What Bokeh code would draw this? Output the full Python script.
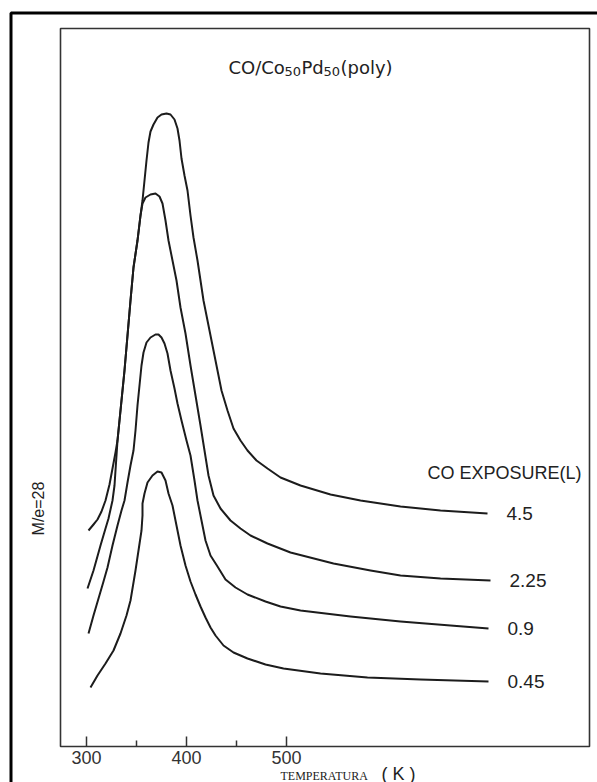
from bokeh.plotting import figure
from bokeh.models import Range1d, FixedTicker, Label, BoxAnnotation
from bokeh.embed import file_html
from bokeh.resources import INLINE
from bokeh.core.properties import value

# ---- data (temperature in K, signal M/e=28 in arbitrary units) ----
temp_45 = [302, 307, 311, 315, 319, 323, 326, 329, 331, 335, 338, 341, 344, 347, 351, 354, 356, 358, 360, 362,
           364, 367, 371, 375, 380, 384, 388, 391, 393, 395, 398, 401, 404, 407, 411, 414, 417, 421, 424, 427,
           431, 435, 441, 447, 454, 461, 470, 481, 494, 514, 544, 574, 614, 654, 701]
sig_45 = [216, 222, 227, 235, 246, 262, 278, 294, 306, 346, 376, 411, 446, 479, 506, 531, 546, 566, 586, 604,
          615, 622, 629, 632, 633, 632, 627, 618, 606, 588, 571, 556, 531, 509, 486, 466, 446, 426, 411, 396,
          376, 356, 336, 318, 306, 296, 286, 278, 269, 261, 252, 246, 240, 236, 233]

temp_225 = [301, 307, 314, 319, 322, 326, 328, 329, 330, 331, 335, 338, 341, 344, 347, 351, 354, 356, 359, 364,
            369, 373, 376, 379, 382, 386, 390, 394, 399, 404, 409, 414, 418, 422, 427, 434, 444, 454, 464, 481,
            504, 547, 584, 614, 654, 704]
sig_225 = [158, 176, 201, 218, 228, 246, 261, 276, 291, 306, 346, 376, 411, 446, 479, 506, 531, 543, 549, 552,
           553, 550, 543, 526, 506, 486, 466, 439, 413, 381, 351, 321, 296, 271, 251, 238, 226, 218, 211, 203,
           194, 183, 176, 171, 168, 166]

temp_09 = [302, 307, 312, 317, 321, 326, 331, 335, 338, 341, 344, 347, 349, 351, 353, 355, 357, 360, 364, 369,
           372, 375, 378, 381, 384, 388, 391, 395, 400, 404, 408, 411, 415, 419, 424, 431, 439, 449, 461, 479,
           494, 514, 564, 614, 664, 702]
sig_09 = [113, 131, 148, 165, 179, 201, 221, 236, 246, 264, 281, 296, 316, 341, 361, 381, 394, 404, 409, 412,
          412, 409, 403, 393, 376, 358, 343, 326, 306, 291, 266, 246, 226, 206, 191, 180, 167, 159, 152, 145,
          140, 136, 130, 125, 121, 118]

temp_045 = [304, 311, 319, 327, 334, 340, 344, 349, 352, 355, 356, 356, 358, 361, 366, 371, 375, 379, 382, 386,
            390, 394, 399, 404, 409, 414, 419, 424, 429, 437, 447, 461, 479, 497, 534, 581, 634, 702]
sig_045 = [59, 71, 83, 96, 113, 131, 146, 176, 196, 216, 231, 243, 253, 264, 271, 275, 274, 266, 253, 241,
           221, 201, 181, 165, 152, 140, 129, 119, 111, 101, 94, 88, 82, 78, 73, 69, 67, 65]

exposure_labels = ["4.5", "2.25", "0.9", "0.45"]
major_ticks = [300, 400, 500]
minor_ticks = [350, 450]

# title pieces: (text, font size px, baseline drop px, x offset px)
title_parts = [("CO/Co", 18, 0, 0), ("50", 13, 4, 56), ("Pd", 18, 0, 73), ("50", 13, 4, 95), ("(poly)", 18, 0, 112)]

series = [(temp_45, sig_45), (temp_225, sig_225), (temp_09, sig_09), (temp_045, sig_045)]

SANS = "Liberation Sans"
INK = "#1c1c1c"

# plotted region (data limits of the drawing box)
T_MIN, T_MAX = 274, 803
S_MIN, S_MAX = 0, 718

p = figure(width=597, height=782, output_backend="svg", toolbar_location=None,
           x_range=Range1d(214, 811), y_range=Range1d(-36, 746), y_axis_location=None,
           min_border=0, min_border_left=0, min_border_right=0, min_border_top=0, min_border_bottom=0)
p.background_fill_color = "white"
p.border_fill_color = "white"
p.grid.visible = False
p.outline_line_color = None

xa = p.xaxis[0]
xa.fixed_location = S_MIN
xa.ticker = FixedTicker(ticks=major_ticks, minor_ticks=minor_ticks)
xa.major_tick_in = 10
xa.major_tick_out = 0
xa.minor_tick_in = 6
xa.minor_tick_out = 0
xa.major_tick_line_color = "#333"
xa.minor_tick_line_color = "#333"
xa.major_tick_line_width = 1.5
xa.minor_tick_line_width = 1.5
xa.axis_line_color = None
xa.major_label_text_font = SANS
xa.major_label_text_font_size = "18px"
xa.major_label_text_color = "#333"
xa.major_label_standoff = 4

# drawing box (frame of the original figure)
p.add_layout(BoxAnnotation(left=T_MIN, right=T_MAX, bottom=S_MIN, top=S_MAX, fill_alpha=0,
                           line_color="#333333", line_alpha=1.0, line_width=1.6, level="underlay"))
# outer page border (only top and left edges fall inside the picture)
p.add_layout(BoxAnnotation(left=224.5, right=900, bottom=-200, top=733.5, fill_alpha=0,
                           line_color="black", line_alpha=1.0, line_width=3, level="underlay"))

for t, s in series:
    p.line(t, s, line_color=INK, line_width=2, line_join="round")

end_x = [t[-1] for t, s in series]
end_y = [s[-1] for t, s in series]
p.text(x=end_x, y=end_y, text=exposure_labels, x_offset=19, text_baseline="middle",
       text_align="left", text_font=value(SANS), text_font_size="19px", text_color="#222")

p.add_layout(Label(x=641, y=274, text="CO EXPOSURE(L)", text_font=SANS, text_font_size="18px",
                   text_baseline="middle", text_color="#222"))

for txt, fs, drop, dx in title_parts:
    p.add_layout(Label(x=442, y=679, text=txt, x_offset=dx, y_offset=-drop, text_font="DejaVu Sans",
                       text_font_size=f"{fs}px", text_align="left", text_baseline="alphabetic",
                       text_color="#222"))

p.add_layout(Label(x=252, y=238, text="M/e=28", angle=1.5708, text_font=SANS, text_font_size="16px",
                   text_align="center", text_baseline="middle", text_color="#222"))
p.add_layout(Label(x=494, y=-29, text="TEMPERATURA", text_font="Liberation Serif", text_font_size="12px",
                   text_baseline="middle", text_color="#222"))
p.add_layout(Label(x=595, y=-27, text="( K )", text_font=SANS, text_font_size="18px",
                   text_baseline="middle", text_color="#222"))

open("out.html", "w").write(file_html(p, INLINE))
